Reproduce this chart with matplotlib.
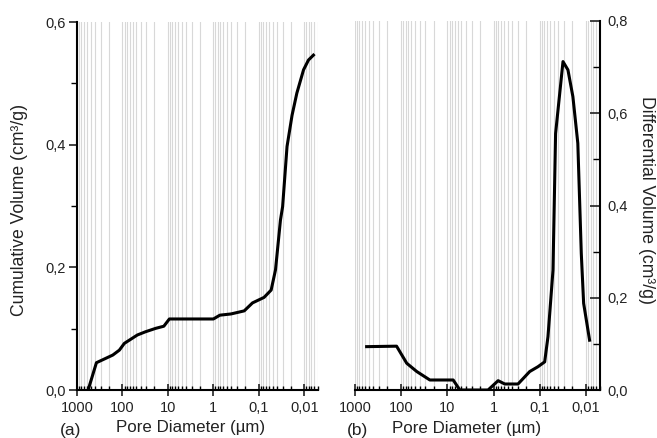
import matplotlib
matplotlib.use("Agg")
import matplotlib.pyplot as plt
from matplotlib.ticker import FixedLocator, FixedFormatter, LogLocator, MultipleLocator, NullFormatter

plt.rcParams['font.family'] = ['Liberation Sans', 'DejaVu Sans']

# ---- data ----
# (a) cumulative volume
cum_d = [569, 374, 163, 117, 91, 47, 31, 18.6, 12.3, 9.3, 1.0, 0.72, 0.41, 0.21,
         0.138, 0.0768, 0.0536, 0.043, 0.0335, 0.030, 0.024, 0.0186, 0.0146, 0.0104,
         0.0081, 0.0063]
cum_v = [0.0, 0.0445, 0.057, 0.065, 0.076, 0.0897, 0.095, 0.1005, 0.104, 0.1158, 0.1158,
         0.122, 0.124, 0.129, 0.142, 0.151, 0.163, 0.196, 0.277, 0.299, 0.397, 0.448,
         0.484, 0.522, 0.538, 0.546]
# (b) differential volume
dif_d = [560, 126, 76, 46, 24, 7.5, 5.4, 1.32, 0.8, 0.575, 0.297, 0.166, 0.11, 0.0787,
         0.0668, 0.052, 0.0457, 0.0316, 0.0247, 0.0193, 0.0151, 0.0127, 0.0113, 0.0084]
dif_v = [0.094, 0.095, 0.058, 0.040, 0.0217, 0.0217, 0.0, 0.0, 0.0202, 0.013, 0.013,
         0.040, 0.0505, 0.061, 0.1156, 0.26, 0.556, 0.712, 0.694, 0.636, 0.535, 0.296,
         0.188, 0.108]

x_ticks = [1000, 100, 10, 1, 0.1, 0.01]
x_ticklabels = ["1000", "100", "10", "1", "0,1", "0,01"]
y1_ticks = [0.0, 0.2, 0.4, 0.6]
y1_ticklabels = ["0,0", "0,2", "0,4", "0,6"]
y2_ticks = [0.0, 0.2, 0.4, 0.6, 0.8]
y2_ticklabels = ["0,0", "0,2", "0,4", "0,6", "0,8"]

W, H = 657, 438
fig = plt.figure(figsize=(W / 100, H / 100), dpi=100)
ax1 = fig.add_axes([77 / W, 48 / H, 241 / W, 368 / H])
ax2 = fig.add_axes([355 / W, 48 / H, 245 / W, 369 / H])

grid_color = '#d8d8d8'
txt_color = '#222222'
for ax in (ax1, ax2):
    ax.set_xscale('log')
    ax.set_xlim(1000, 0.005)
    ax.xaxis.set_major_locator(FixedLocator(x_ticks))
    ax.xaxis.set_major_formatter(FixedFormatter(x_ticklabels))
    ax.xaxis.set_minor_locator(LogLocator(base=10, subs=range(2, 10), numticks=20))
    ax.xaxis.set_minor_formatter(NullFormatter())
    ax.grid(True, which='both', axis='x', color=grid_color, lw=0.8, zorder=0)
    ax.set_axisbelow(True)
    ax.spines['top'].set_visible(False)
    ax.tick_params(axis='x', which='major', direction='inout', length=8, width=1.2,
                   labelsize=10.5, pad=4, colors=txt_color)
    ax.tick_params(axis='x', which='minor', direction='in', length=3, width=1.0)
    ax.spines['bottom'].set_linewidth(1.5)

# panel (a)
ax1.plot(cum_d, cum_v, color='black', lw=2.2, zorder=3)
ax1.set_ylim(0, 0.6)
ax1.yaxis.set_major_locator(FixedLocator(y1_ticks))
ax1.yaxis.set_major_formatter(FixedFormatter(y1_ticklabels))
ax1.yaxis.set_minor_locator(MultipleLocator(0.1))
ax1.spines['right'].set_visible(False)
ax1.spines['left'].set_linewidth(1.5)
ax1.tick_params(axis='y', which='major', direction='out', length=6, width=1.2,
                labelsize=10.5, pad=2, colors=txt_color)
ax1.tick_params(axis='y', which='minor', direction='out', length=4, width=1.0)
ax1.set_ylabel("Cumulative Volume (cm³/g)", fontsize=12.7, color=txt_color)
ax1.yaxis.set_label_coords(-0.237, 0.489)
ax1.yaxis.label.set_va('center')
ax1.set_xlabel("Pore Diameter (µm)", fontsize=12.2, color=txt_color)
ax1.xaxis.set_label_coords(0.473, -0.103)
ax1.xaxis.label.set_va('center')

# panel (b)
ax2.plot(dif_d, dif_v, color='black', lw=2.2, zorder=3)
ax2.set_ylim(0, 0.8)
ax2.yaxis.tick_right()
ax2.yaxis.set_label_position('right')
ax2.yaxis.set_major_locator(FixedLocator(y2_ticks))
ax2.yaxis.set_major_formatter(FixedFormatter(y2_ticklabels))
ax2.yaxis.set_minor_locator(MultipleLocator(0.1))
ax2.spines['left'].set_visible(False)
ax2.spines['right'].set_linewidth(1.5)
ax2.tick_params(axis='y', which='major', direction='in', length=7, width=1.2,
                labelsize=10.5, pad=5, colors=txt_color)
ax2.tick_params(axis='y', which='minor', direction='in', length=5, width=1.0)
ax2.set_ylabel("Differential Volume (cm³/g)", fontsize=12.7, rotation=270, color=txt_color)
ax2.yaxis.set_label_coords(1.188, 0.515)
ax2.yaxis.label.set_va('center')
ax2.set_xlabel("Pore Diameter (µm)", fontsize=12.2, color=txt_color)
ax2.xaxis.set_label_coords(0.457, -0.103)
ax2.xaxis.label.set_va('center')

fig.text(71 / W, 1 - 430 / H, "(a)", fontsize=12.5, ha='center', va='center', color=txt_color)
fig.text(357 / W, 1 - 430 / H, "(b)", fontsize=12.5, ha='center', va='center', color=txt_color)

fig.savefig("out.png", dpi=100)
